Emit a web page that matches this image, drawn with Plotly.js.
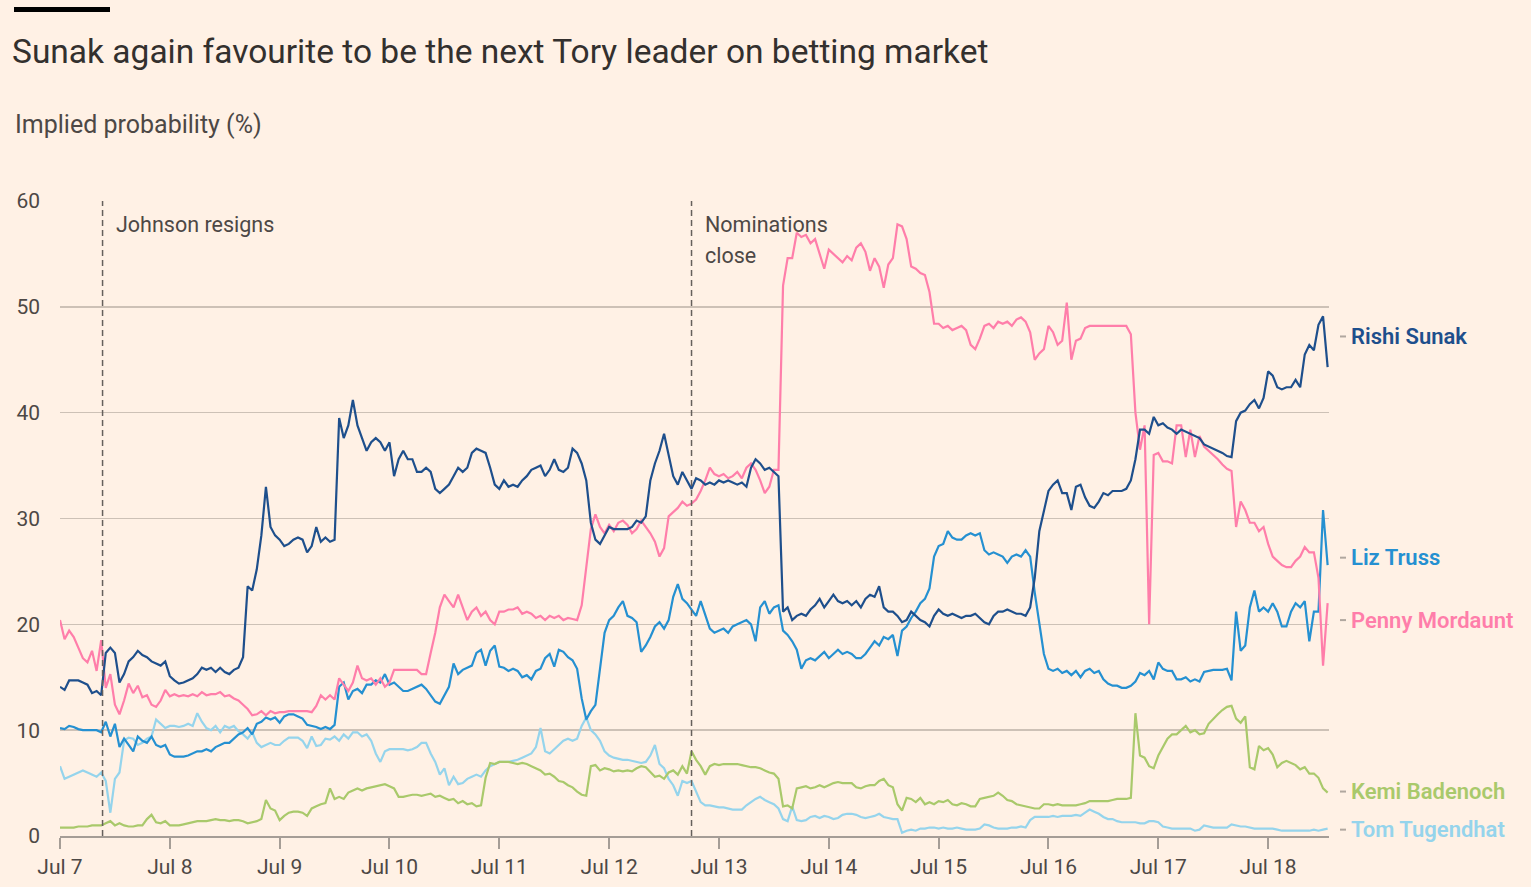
<!DOCTYPE html>
<html>
<head>
<meta charset="utf-8">
<script src="https://cdn.plot.ly/plotly-3.0.1.min.js"></script>
<style>
  html, body { margin:0; padding:0; background:#fff1e5; }
  #chart { width:1531px; height:887px; }
</style>
</head>
<body>
<div id="chart"></div>
<script>
// Hourly samples starting 2022-07-07 00:00, one value per hour
const startDate = Date.UTC(2022, 6, 7);
const stepHours = 1;

const tickLabels = ['Jul 7','Jul 8','Jul 9','Jul 10','Jul 11','Jul 12','Jul 13','Jul 14','Jul 15','Jul 16','Jul 17','Jul 18'];
const tickDates = ['2022-07-07','2022-07-08','2022-07-09','2022-07-10','2022-07-11','2022-07-12','2022-07-13','2022-07-14','2022-07-15','2022-07-16','2022-07-17','2022-07-18'];

const seriesNames = ['Rishi Sunak','Liz Truss','Penny Mordaunt','Kemi Badenoch','Tom Tugendhat'];

const sunak = [
14.1,13.8,14.7,14.7,14.7,14.5,14.3,13.5,13.7,13.3,
17.3,17.8,17.3,14.5,15.3,16.5,16.9,17.5,17.1,16.9,
16.5,16.3,16.1,16.5,15.1,14.7,14.4,14.5,14.7,14.9,
15.3,15.9,15.7,15.9,15.5,15.9,15.5,15.3,15.7,15.9,
16.9,23.6,23.2,25.2,28.4,33.0,29.2,28.4,
28.0,27.4,27.6,28.0,28.2,28.0,26.8,27.4,29.2,27.8,
28.2,27.8,28.0,39.5,37.6,38.8,41.2,38.8,37.6,36.4,
37.2,37.6,37.2,36.4,37.2,34.0,35.6,36.4,35.6,35.6,
34.4,34.4,34.8,34.4,32.8,32.4,32.8,33.2,34.0,34.8,
34.4,34.8,36.2,36.6,36.4,36.2,34.8,33.2,
32.8,33.6,33.0,33.2,33.0,33.6,34.0,34.6,34.8,35.0,
34.0,34.6,35.6,34.6,34.4,34.8,36.6,36.2,35.2,33.6,
29.6,28.0,27.6,28.4,29.2,29.0,29.0,29.0,29.0,29.2,
29.8,29.6,30.2,33.6,35.2,36.4,38.0,36.0,34.0,33.2,
34.4,33.6,32.8,33.8,33.6,33.2,33.4,33.2,33.6,33.4,33.6,
33.4,33.2,33.4,33.0,34.8,35.6,35.2,34.6,34.8,34.4,34.0,
21.2,21.6,20.4,20.8,21.0,20.8,21.4,21.8,22.4,21.6,
22.2,22.8,22.2,22.0,22.2,21.8,22.2,21.6,22.4,22.8,
22.6,23.6,21.6,21.2,21.2,20.8,20.2,20.4,21.2,20.8,
20.4,20.2,19.8,20.8,21.4,21.0,20.8,21.0,20.8,
20.6,20.8,20.8,21.0,20.6,20.2,20.0,20.8,21.2,21.2,
21.4,21.2,21.0,21.0,20.8,21.6,24.4,28.8,30.8,32.6,
33.2,33.6,32.4,32.4,30.8,33.0,33.2,32.0,31.2,31.0,
31.6,32.4,32.2,32.6,32.6,32.6,32.8,33.6,35.6,38.4,
38.4,38.0,39.6,38.8,39.0,38.6,38.4,38.0,38.4,38.2,
38.0,37.8,37.6,
37.0,36.8,36.6,36.4,36.2,35.9,35.8,39.2,40.0,40.2,
40.8,41.2,40.4,41.4,43.9,43.5,42.4,42.2,42.4,42.4,
43.1,42.4,45.5,46.4,45.9,48.3,49.1,44.3
];

const mordaunt = [
20.4,18.6,19.4,18.8,17.8,16.8,16.4,17.5,15.6,18.5,
14.0,15.3,12.4,11.5,12.8,14.4,13.5,14.2,13.1,13.3,
12.4,12.2,12.8,13.8,13.2,13.4,13.2,13.3,13.2,13.4,
13.2,13.6,13.3,13.4,13.4,13.6,13.2,13.3,13.0,12.8,
12.4,12.0,11.4,11.5,11.8,11.4,11.8,11.6,
11.7,11.7,11.8,11.8,11.8,11.8,11.8,11.7,12.3,13.3,
12.9,13.3,12.9,14.9,14.3,13.7,14.5,16.1,14.9,14.7,
14.9,14.3,14.9,14.1,14.5,15.7,15.7,15.7,15.7,15.7,
15.7,15.3,15.3,17.3,19.2,21.6,22.8,22.2,21.6,22.8,
21.6,20.4,21.2,21.6,20.8,21.2,20.4,20.0,
21.2,21.2,21.4,21.4,21.6,21.0,21.2,21.0,20.6,20.8,
20.4,20.8,20.6,20.8,20.4,20.6,20.5,20.4,21.8,25.5,
29.0,30.4,29.2,28.6,29.4,28.8,29.6,29.8,29.4,28.6,
29.0,29.8,29.2,28.6,27.8,26.4,27.2,30.2,30.6,31.0,
31.6,31.2,31.4,31.8,32.6,33.6,34.8,34.2,34.0,34.2,33.8,
34.0,34.4,33.8,34.8,35.2,34.6,33.6,32.4,33.0,34.6,34.6,
52.0,54.6,54.6,57.0,56.6,56.8,56.0,56.4,55.0,53.6,
55.4,55.0,54.6,54.2,54.8,54.4,55.6,56.0,55.2,53.4,
54.6,53.8,51.8,54.0,54.6,57.8,57.6,56.4,53.8,53.6,
53.2,53.0,51.4,48.4,48.4,48.0,48.2,47.8,48.0,
48.2,47.8,46.4,46.0,47.0,48.2,48.4,48.0,48.6,48.4,
48.6,48.2,48.8,49.0,48.6,47.6,45.0,45.6,46.0,48.2,
47.6,46.4,46.8,50.4,45.0,46.8,47.0,48.0,48.2,48.2,
48.2,48.2,48.2,48.2,48.2,48.2,48.2,47.4,40.0,36.5,
38.8,20.0,36.0,36.2,35.4,35.4,35.2,38.8,38.8,35.8,
38.4,35.8,37.8,
36.8,36.4,36.0,35.6,35.1,34.7,34.5,29.2,31.6,30.8,
29.6,29.6,28.8,29.2,27.6,26.4,26.0,25.6,25.4,25.4,
26.0,26.4,27.3,26.8,26.8,24.4,16.1,22.0
];

const truss = [
10.2,10.1,10.4,10.3,10.1,10.0,10.0,10.0,10.0,9.8,
10.8,9.4,10.6,8.4,9.2,8.6,8.0,9.4,9.0,8.8,
9.4,8.6,8.4,8.6,7.7,7.5,7.5,7.5,7.6,7.8,
8.0,8.0,8.2,8.0,8.4,8.6,8.8,8.8,9.2,9.6,
9.8,10.2,9.6,10.6,10.8,11.2,11.0,11.2,
10.7,11.3,11.5,11.5,11.3,11.1,10.5,10.4,10.3,10.1,
10.3,10.1,10.5,14.1,14.5,12.9,13.7,13.9,13.5,14.3,
14.3,14.7,14.5,15.3,14.3,14.5,14.1,13.7,13.7,13.9,
14.1,14.3,13.9,13.3,12.7,12.5,13.3,14.1,16.3,15.3,
15.7,15.9,16.1,17.3,17.6,16.1,17.5,18.0,
16.0,15.9,15.6,15.8,15.6,15.0,15.2,14.8,15.6,15.8,
16.8,17.2,16.0,17.6,17.4,16.9,16.6,15.8,13.0,11.0,
11.8,12.4,16.0,19.2,20.4,20.8,21.6,22.2,20.8,20.6,
20.2,17.4,18.0,18.8,19.8,20.2,19.6,20.4,22.6,23.8,
22.4,22.0,21.4,20.8,22.2,20.8,19.6,19.2,19.4,19.6,19.2,
19.8,20.0,20.2,20.4,20.0,18.4,21.6,22.2,21.0,21.6,21.8,
19.4,19.0,18.4,17.6,15.8,16.6,16.8,16.6,17.0,17.4,
16.8,17.2,17.6,17.2,17.4,17.2,16.8,16.8,17.2,17.8,
18.4,18.0,18.8,18.6,19.0,17.0,19.4,19.8,20.6,21.2,
22.0,22.4,23.4,26.4,27.4,27.6,28.8,28.2,28.0,
28.0,28.4,28.6,28.4,28.6,27.0,26.6,26.8,26.6,26.4,
25.8,26.4,26.6,26.4,27.0,26.4,23.0,20.0,17.2,15.8,
15.6,15.8,15.4,15.6,15.2,15.6,15.0,15.6,15.8,15.4,
15.6,14.8,14.4,14.2,14.2,14.0,14.0,14.2,14.6,15.4,
15.2,15.6,14.8,16.4,15.8,15.6,15.6,14.8,14.8,15.0,
14.6,14.8,14.6,
15.5,15.6,15.7,15.7,15.7,15.8,14.7,21.2,17.5,18.0,
21.6,23.2,21.2,21.6,21.2,22.0,21.2,19.8,19.8,21.2,
22.0,21.6,22.2,18.4,21.2,21.2,30.8,25.6
];

const badenoch = [
0.8,0.8,0.8,0.8,0.9,0.9,0.9,1.0,1.0,1.0,
1.2,1.4,1.0,1.2,1.0,0.9,0.9,1.0,1.0,1.6,
2.0,1.3,1.2,1.4,1.0,1.0,1.0,1.1,1.2,1.3,
1.4,1.4,1.4,1.5,1.6,1.5,1.5,1.4,1.5,1.5,
1.4,1.2,1.3,1.4,1.6,3.4,2.6,2.4,
1.5,1.9,2.2,2.3,2.3,2.2,1.9,2.6,2.8,3.0,
3.1,4.5,3.5,3.7,3.5,4.1,4.3,4.5,4.3,4.5,
4.6,4.7,4.8,4.9,4.7,4.5,3.7,3.7,3.8,3.9,
3.9,3.8,3.9,4.0,3.7,3.8,3.6,3.4,3.5,3.1,
3.3,3.0,3.1,2.8,2.9,5.5,6.9,6.8,
7.0,7.0,7.0,6.9,6.8,6.9,6.8,6.6,6.4,6.2,
5.8,5.9,5.6,5.2,5.1,4.8,4.6,4.2,3.9,3.8,
6.6,6.7,6.2,6.4,6.3,6.1,6.2,6.1,6.2,6.1,
6.4,6.6,6.5,6.0,5.6,5.7,5.4,6.0,6.2,5.8,
6.6,5.9,8.0,7.2,6.6,5.8,6.6,6.8,6.7,6.8,6.8,
6.8,6.8,6.7,6.6,6.5,6.5,6.4,6.2,6.0,5.9,5.4,
2.8,2.9,2.6,4.5,4.6,4.7,4.5,4.6,4.8,4.6,
4.8,5.0,5.1,5.0,5.0,5.0,4.6,4.5,4.7,4.8,
4.8,5.2,5.4,4.8,4.6,3.0,2.4,3.6,3.5,3.2,
3.6,3.0,3.2,3.0,3.3,3.2,3.4,3.0,2.9,
3.1,3.0,2.8,2.8,3.5,3.6,3.7,3.8,4.1,3.8,
3.4,3.3,3.0,2.9,2.8,2.7,2.6,2.6,3.0,3.0,
2.9,3.0,2.9,2.9,2.9,2.9,3.0,3.1,3.3,3.3,
3.3,3.3,3.3,3.4,3.5,3.5,3.5,3.6,11.6,7.6,
7.4,6.6,6.4,7.6,8.4,9.2,9.6,9.6,10.0,10.4,
9.8,10.0,9.6,
9.7,10.6,11.1,11.5,11.9,12.2,12.3,11.1,10.7,11.3,
6.5,6.3,8.5,8.1,8.3,7.7,6.5,6.9,7.1,6.9,
6.7,6.3,6.5,5.9,5.9,5.5,4.5,4.1
];

const tugendhat = [
6.6,5.4,5.6,5.8,6.0,6.2,6.0,5.8,5.6,6.0,
5.2,2.2,5.4,6.0,9.0,9.3,9.2,8.6,8.8,9.2,
9.4,11.0,10.6,10.2,10.4,10.4,10.3,10.4,10.6,10.4,
11.6,10.8,10.2,10.0,10.4,9.8,10.4,10.2,10.4,9.9,
9.6,9.2,9.8,8.8,8.4,8.6,8.8,8.6,
8.6,9.0,9.3,9.3,9.3,9.0,8.3,9.4,8.5,8.6,
9.2,9.1,9.4,9.0,9.6,9.2,9.8,9.8,9.4,9.6,
9.0,7.8,7.0,8.0,8.2,8.2,8.2,8.2,8.1,8.2,
8.4,8.8,8.8,7.8,7.0,5.8,6.4,4.8,5.6,4.9,
5.0,5.4,5.6,5.8,5.6,6.2,6.6,6.8,
7.0,7.0,7.0,7.1,7.2,7.4,7.6,7.8,8.4,10.2,
8.0,7.8,8.2,8.6,9.0,9.2,9.0,9.2,10.4,11.2,
10.0,9.6,9.0,8.0,7.6,7.4,7.3,7.2,7.2,7.1,
7.0,6.9,7.0,7.6,8.6,6.8,6.4,5.4,4.8,3.8,
5.2,5.0,5.2,4.2,3.2,2.9,2.9,2.8,2.7,2.7,2.6,
2.5,2.5,2.5,2.9,3.2,3.5,3.7,3.4,3.2,3.0,2.6,
1.6,1.4,2.8,1.5,1.4,1.5,1.8,1.9,1.7,1.9,
1.8,1.6,1.7,2.0,2.1,2.1,2.0,1.8,1.7,1.8,
1.9,2.1,1.8,1.7,1.6,1.6,0.3,0.5,0.6,0.5,
0.7,0.7,0.8,0.8,0.7,0.8,0.7,0.7,0.8,
0.7,0.6,0.6,0.6,0.7,1.1,1.0,0.8,0.7,0.7,
0.7,0.8,0.8,0.9,0.8,1.5,1.8,1.8,1.8,1.8,
1.9,1.8,1.9,1.9,1.9,2.0,1.9,2.2,2.5,2.3,
2.1,1.8,1.6,1.6,1.4,1.3,1.3,1.3,1.3,1.2,
1.2,1.4,1.4,1.3,0.9,0.8,0.7,0.7,0.7,0.7,
0.7,0.5,0.6,
1.0,0.9,0.8,0.8,0.8,0.8,1.1,1.0,0.9,0.9,
0.8,0.7,0.7,0.7,0.7,0.7,0.6,0.5,0.5,0.5,
0.5,0.5,0.5,0.5,0.6,0.5,0.6,0.7
];

// Events marked with dashed lines (hours after Jul 7 00:00)
const eventHours = [9.3, 138];
const eventLabels = [['Johnson resigns'], ['Nominations', 'close']];

// Styling
const colors = ['#1e4f8c', '#2590d1', '#ff7eaa', '#a9c96b', '#95d4ec'];
const labelY = [47.2, 26.3, 20.4, 4.2, 0.6];

function pad(n){ return (n < 10 ? '0' : '') + n; }
function toDate(h){
  const d = new Date(startDate + h * 3600000);
  return d.getUTCFullYear() + '-' + pad(d.getUTCMonth()+1) + '-' + pad(d.getUTCDate()) + ' ' +
         pad(d.getUTCHours()) + ':' + pad(d.getUTCMinutes()) + ':' + pad(d.getUTCSeconds());
}

const seriesData = [sunak, truss, mordaunt, badenoch, tugendhat];
const drawOrder = [4, 3, 1, 2, 0];

const traces = drawOrder.map(i => ({
  type: 'scatter',
  mode: 'lines',
  name: seriesNames[i],
  x: seriesData[i].map((_, k) => toDate(k * stepHours)),
  y: seriesData[i],
  line: { color: colors[i], width: 2.2 },
  hoverinfo: 'x+y+name'
}));

const W = 1531, H = 887;
const mL = 60, mR = 202, mT = 201, mB = 51;
const pw = W - mL - mR, ph = H - mT - mB;
const px = x => (x - mL) / pw;
const py = y => (H - mB - y) / ph;

const shapes = [
  { type:'rect', xref:'paper', yref:'paper', x0:px(14), x1:px(110), y0:py(12), y1:py(7),
    fillcolor:'#000000', line:{width:0} }
];
eventHours.forEach(h => {
  shapes.push({ type:'line', xref:'x', yref:'paper', x0:toDate(h), x1:toDate(h), y0:0, y1:1,
    line:{ color:'#66605c', width:1.5, dash:'6px,4px' } });
});
labelY.forEach(v => {
  shapes.push({ type:'line', xref:'paper', yref:'y', x0:1 + 11/pw, x1:1 + 17/pw, y0:v, y1:v,
    line:{ color:'#b0a79f', width:2 } });
});

const annotations = [
  { xref:'paper', yref:'paper', x:px(13), y:py(125), xanchor:'left', yanchor:'middle', showarrow:false,
    text:'Implied probability (%)', font:{ size:25, color:'#4d4845' } }
];
eventHours.forEach((h, i) => {
  eventLabels[i].forEach((t, j) => {
    annotations.push({ xref:'x', yref:'y', x:toDate(h), y:57.8 - j * 2.93, xanchor:'left', yanchor:'middle',
      xshift:11, showarrow:false, text:t, font:{ size:21.5, color:'#4d4845' } });
  });
});
seriesNames.forEach((n, i) => {
  annotations.push({ xref:'paper', yref:'y', x:1, y:labelY[i], xanchor:'left', yanchor:'middle', xshift:20,
    showarrow:false, text:n, font:{ size:22, color:colors[i], weight:600 } });
});

const layout = {
  width: W, height: H,
  paper_bgcolor:'#fff1e5', plot_bgcolor:'#fff1e5',
  margin:{ l:mL, r:mR, t:mT, b:mB, pad:0 },
  font:{ family:'Roboto, "Open Sans", sans-serif', color:'#66605c' },
  showlegend:false,
  title:{ text:'Sunak again favourite to be the next Tory leader on betting market',
    xref:'container', yref:'container', x:12/W, y:1 - 51/H, xanchor:'left', yanchor:'middle',
    font:{ size:33.5, color:'#33302e' } },
  xaxis:{
    type:'date', range:[toDate(0), toDate(277.3)],
    tickmode:'array', tickvals:tickDates, ticktext:tickLabels,
    showgrid:false, zeroline:false, showline:true, linecolor:'#a59d96', linewidth:2,
    ticks:'outside', ticklen:11, tickwidth:2, tickcolor:'#a59d96',
    tickfont:{ size:21, color:'#4d4845' }
  },
  yaxis:{
    range:[0, 60], tickmode:'array', tickvals:[0,10,20,30,40,50,60],
    showgrid:true, gridcolor:'#cdc1b6', gridwidth:1.6, zeroline:false, showline:false,
    ticks:'', ticklabelstandoff:19, tickfont:{ size:21, color:'#4d4845' }
  },
  shapes: shapes,
  annotations: annotations
};

Plotly.newPlot('chart', traces, layout, { displayModeBar:false, staticPlot:true });
</script>
</body>
</html>
